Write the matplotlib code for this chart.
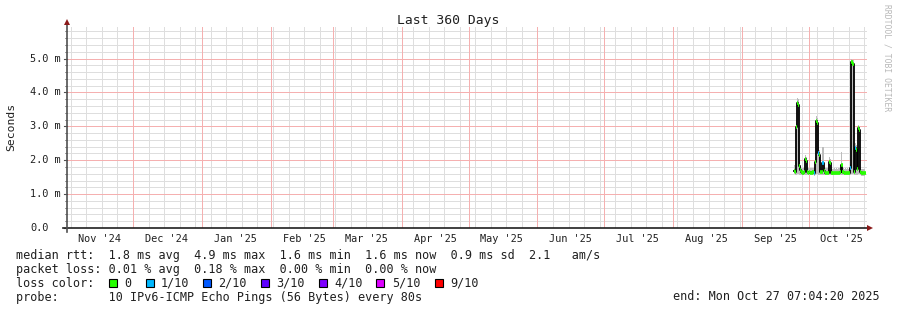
import matplotlib
matplotlib.use("Agg")
import matplotlib.pyplot as plt
import matplotlib.dates as mdates
import matplotlib.transforms as mtransforms
import numpy as np
import pandas as pd

# ---------------- data ----------------
title = "Last 360 Days"
y_label = "Seconds"
graph_start = "2024-11-01 07:04:20"
graph_end = "2025-10-27 07:04:20"
sample_start = "2025-09-24 12:00"
sample_step = "12h"

# median rtt (ms), one value per sample
median_ms = [1.69, 1.66, 2.99, 3.68, 3.62, 1.83, 1.70, 1.64, 1.63, 1.64,
             2.03, 1.98, 1.65, 1.63, 1.64, 1.63, 1.63, 1.64, 1.62, 1.96,
             3.17, 3.10, 2.20, 2.15, 1.65, 1.64, 1.93, 1.68, 1.63, 1.62,
             1.63, 1.62, 1.96, 1.92, 1.63, 1.62, 1.63, 1.62, 1.63, 1.62,
             1.63, 1.63, 1.64, 1.86, 1.64, 1.62, 1.63, 1.62, 1.63, 1.62,
             1.63, 1.76, 4.90, 4.85, 1.66, 2.37, 2.30, 1.75, 2.94, 2.90,
             1.64, 1.62, 1.61, 1.62, 1.62]
# smoke band (ms)
smoke_lo = [1.58, 1.57, 1.56, 1.58, 1.60, 1.57, 1.56, 1.55, 1.55, 1.55,
            1.56, 1.56, 1.55, 1.55, 1.55, 1.55, 1.55, 1.55, 1.54, 1.56,
            1.58, 1.58, 1.56, 1.56, 1.55, 1.55, 1.55, 1.56, 1.55, 1.55,
            1.55, 1.55, 1.56, 1.56, 1.55, 1.55, 1.55, 1.55, 1.55, 1.55,
            1.55, 1.55, 1.55, 1.56, 1.55, 1.55, 1.55, 1.55, 1.55, 1.55,
            1.55, 1.56, 1.60, 1.60, 1.56, 1.57, 1.57, 1.56, 1.58, 1.58,
            1.55, 1.54, 1.54, 1.54, 1.54]
smoke_hi = [1.85, 1.80, 3.20, 3.85, 3.80, 2.00, 1.85, 1.78, 1.76, 1.78,
            2.15, 2.10, 1.78, 1.76, 1.77, 1.76, 1.76, 1.78, 1.80, 2.10,
            3.30, 3.25, 2.40, 2.30, 1.80, 1.78, 2.40, 1.82, 1.76, 1.76,
            1.76, 1.76, 2.10, 2.05, 1.76, 1.75, 1.76, 1.75, 1.76, 1.75,
            1.76, 1.76, 1.78, 2.25, 1.78, 1.75, 1.76, 1.75, 1.76, 1.75,
            1.76, 1.90, 5.00, 4.95, 1.80, 2.50, 2.45, 1.90, 3.05, 3.00,
            1.78, 1.75, 1.74, 1.74, 1.74]
# loss class per sample (index into loss_labels)
loss_class = [0] * 65
for i in (18, 22, 26, 51, 55):
    loss_class[i] = 1

loss_labels = ["0", "1/10", "2/10", "3/10", "4/10", "5/10", "9/10"]
loss_colors = ["#26ff00", "#00b8ff", "#0059ff", "#5e00ff", "#7e00ff", "#dd00ff", "#ff0000"]

y_ticks = [0, 1, 2, 3, 4, 5]
y_ticklabels = ["0.0", "1.0 m", "2.0 m", "3.0 m", "4.0 m", "5.0 m"]

legend_line1 = "median rtt:  1.8 ms avg  4.9 ms max  1.6 ms min  1.6 ms now  0.9 ms sd  2.1   am/s"
legend_line2 = "packet loss: 0.01 % avg  0.18 % max  0.00 % min  0.00 % now"
legend_line3 = "loss color:"
legend_line4 = "probe:       10 IPv6-ICMP Echo Pings (56 Bytes) every 80s"
end_text = "end: Mon Oct 27 07:04:20 2025"
watermark = "RRDTOOL / TOBI OETIKER"

# ---------------- figure ----------------
W, H = 897, 310
MONO = "DejaVu Sans Mono"
FS = 8.5
FS_AX = 7.4
TXT = "#202020"

fig = plt.figure(figsize=(W / 100, H / 100), dpi=100)
fig.patch.set_facecolor("white")
ax = fig.add_axes([67 / W, (H - 228) / H, (867 - 67) / W, (228 - 26) / H])
ax.set_facecolor("white")

t0 = mdates.date2num(pd.Timestamp(graph_start))
t1 = mdates.date2num(pd.Timestamp(graph_end))
ax.set_xlim(t0, t1)
ax.set_ylim(0, 5.96)

for s in ax.spines.values():
    s.set_visible(False)
ax.set_xticks([])
ax.set_yticks([])

# grid (light dotted like rrdtool): weekly minor lines on Sundays, monthly major lines
grid_kw = dict(lw=0.72, linestyle=(0, (1, 1)), zorder=0, antialiased=False)
for d in pd.date_range("2024-11-03", graph_end, freq="7D"):
    ax.axvline(mdates.date2num(d), color="#dedede", **grid_kw)
for v in np.arange(0.2, 5.9, 0.2):
    if abs(v - round(v)) > 1e-6:
        ax.axhline(v, color="#dedede", **grid_kw)
months = pd.date_range("2024-12-01", "2025-10-01", freq="MS")
for d in months:
    ax.axvline(mdates.date2num(d), color="#f5b0b0", **grid_kw)
for v in y_ticks[1:]:
    ax.axhline(v, color="#f5b0b0", **grid_kw)

# data
t = mdates.date2num(pd.date_range(sample_start, periods=len(median_ms), freq=sample_step))
ax.fill_between(t, smoke_lo, smoke_hi, step="mid", color="#bdbdbd", lw=0, zorder=2)
ax.step(t, median_ms, where="mid", color="black", lw=1.3, zorder=3)
half = 0.27
ax.hlines(median_ms, t - half, t + half,
          colors=[loss_colors[c] for c in loss_class], lw=2.6, zorder=4)

# axes lines with arrows
arrow_color = "#8b1a1a"
ax.plot([-4 / 800, 1.0 + 1 / 800], [0, 0], color="#202020", lw=1.2,
        transform=ax.transAxes, clip_on=False, zorder=5)
ax.plot([0, 0], [-4 / 202, 1.0 + 2 / 202], color="#505050", lw=1.2,
        transform=ax.transAxes, clip_on=False, zorder=5)
ax.plot([1.0 + 3 / 800], [0], marker=">", ms=5, color=arrow_color,
        transform=ax.transAxes, clip_on=False, zorder=6, markeredgewidth=0)
ax.plot([0], [1.0 + 4 / 202], marker="^", ms=5, color=arrow_color,
        transform=ax.transAxes, clip_on=False, zorder=6, markeredgewidth=0)

# y tick marks (major and minor) on the left of the axis
ytick_tr = mtransforms.blended_transform_factory(ax.transAxes, ax.transData)
for v in np.arange(0.2, 5.9, 0.2):
    ax.plot([-2 / 800, 0], [v, v], transform=ytick_tr, color="#a0a0a0", lw=0.7, clip_on=False)

# y tick labels (left aligned like rrdtool)
ytrans = mtransforms.blended_transform_factory(fig.transFigure, ax.transData)
for v, lab in zip(y_ticks, y_ticklabels):
    ax.text(30 / W, v, lab, transform=ytrans, ha="left", va="center",
            family=MONO, fontsize=FS_AX, color=TXT)
    ax.plot([-3 / 800, 0], [v, v], transform=ytick_tr, color="#505050", lw=0.8, clip_on=False)

# x tick labels at mid-month
xtrans = mtransforms.blended_transform_factory(ax.transData, fig.transFigure)
for d in pd.date_range("2024-11-01", "2025-10-01", freq="MS"):
    mid = mdates.date2num(d + pd.Timedelta(days=15))
    ax.text(mid, 1 - 242 / H, d.strftime("%b '%y"), transform=xtrans,
            ha="center", va="baseline", family=MONO, fontsize=FS_AX, color=TXT)

# titles
fig.text(448 / W, 1 - 24 / H, title, ha="center", va="baseline", family=MONO, fontsize=9.4, color=TXT)
fig.text(11 / W, 1 - 127 / H, y_label, ha="center", va="center", rotation=90, family=MONO, fontsize=8.2, color=TXT)
fig.text(887 / W, 1 - 4 / H, watermark, ha="center", va="top", rotation=-90, family=MONO, fontsize=5.8, color="#b8b8b8")

# legend
fig.text(16 / W, 1 - 259 / H, legend_line1, ha="left", va="baseline", family=MONO, fontsize=FS, color=TXT)
fig.text(16 / W, 1 - 273 / H, legend_line2, ha="left", va="baseline", family=MONO, fontsize=FS, color=TXT)
fig.text(16 / W, 1 - 287 / H, legend_line3, ha="left", va="baseline", family=MONO, fontsize=FS, color=TXT)
fig.text(16 / W, 1 - 301 / H, legend_line4, ha="left", va="baseline", family=MONO, fontsize=FS, color=TXT)
fig.text(880 / W, 1 - 300.5 / H, end_text, ha="right", va="baseline", family=MONO, fontsize=FS, color=TXT)

label_px = [124, 161, 218.3, 276, 334, 391.7, 450]
for lx, lab, col in zip(label_px, loss_labels, loss_colors):
    sq = plt.Rectangle(((lx - 15.5) / W, 1 - 287 / H), 8 / W, 8 / H, transform=fig.transFigure,
                       facecolor=col, edgecolor="black", lw=0.8)
    fig.patches.append(sq)
    fig.text(lx / W, 1 - 287 / H, lab, ha="left", va="baseline", family=MONO, fontsize=FS, color=TXT)

fig.savefig("out.png", dpi=100, facecolor="white")
